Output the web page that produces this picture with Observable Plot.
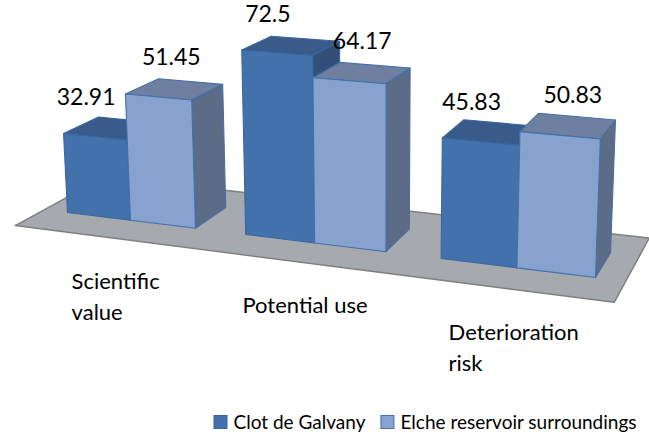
<!DOCTYPE html>
<html><head><meta charset="utf-8">
<script src="https://cdn.jsdelivr.net/npm/d3@7"></script>
<script src="https://cdn.jsdelivr.net/npm/@observablehq/plot@0.6"></script>
<style>html,body{margin:0;padding:0;background:#fff;} #chart svg{display:block;}</style>
</head><body><div id="chart"></div>
<script>
// ---- data ----
const categories = ["Scientific value", "Potential use", "Deterioration risk"];
const categoryLabels = ["Scientific\nvalue", "Potential use", "Deterioration\nrisk"];
const seriesNames = ["Clot de Galvany", "Elche reservoir surroundings"];
const clotValues = [32.91, 72.5, 45.83];
const elcheValues = [51.45, 64.17, 50.83];

// ---- style ----
const FONT = "Lato, 'Open Sans', sans-serif";
const palette = {
  "Clot de Galvany": {front: "#4271ab", top: "#3a5b89", side: "#324f78", edge: "#3a66a0"},
  "Elche reservoir surroundings": {front: "#87a2cf", top: "#6e7fa0", side: "#5c6b86", edge: "#4470ab"}
};
const VALUE_SIZE = 23, CAT_SIZE = 22, LEG_SIZE = 19;

// ---- scales (world units) ----
const groupScale = Plot.scale({x: {type: "band", domain: categories, range: [-0.375, 7.875],
  paddingInner: 0.75 / 2.75, paddingOuter: 0.375 / 2.75, align: 0.5, round: false}});
const seriesScale = Plot.scale({x: {type: "band", domain: seriesNames, range: [0, groupScale.bandwidth],
  padding: 0, round: false}});
const heightScale = Plot.scale({y: {type: "linear", domain: [0, 80], range: [0, 1]}});

// perspective camera (3x4 projection of world X, H, Z to screen)
const CAM = {u: [67, 60.88, -11.52, 38.6], v: [212, 4.235, -196, -11.4], w: [1, -0.016, -0.0304, 0.0416]};
function project(X, H, Z) {
  const w = CAM.w[0] + CAM.w[1] * X + CAM.w[2] * H + CAM.w[3] * Z;
  return [(CAM.u[0] + CAM.u[1] * X + CAM.u[2] * H + CAM.u[3] * Z) / w,
          (CAM.v[0] + CAM.v[1] * X + CAM.v[2] * H + CAM.v[3] * Z) / w];
}
const DEPTH = [0, 1];           // bar depth
const FLOOR_Z = [-0.77, 1.77];  // floor depth

// ---- build table ----
const valuesBySeries = {"Clot de Galvany": clotValues, "Elche reservoir surroundings": elcheValues};
const faces = [];
const labels = [];
let fid = 0;
function pushFace(pts, fill, stroke) {
  const id = fid++;
  [...pts, pts[0]].forEach(([X, H, Z]) => {
    const [x, y] = project(X, H, Z);
    faces.push({id, x, y, fill, stroke});
  });
}
categories.forEach((cat, i) => {
  seriesNames.forEach((s, j) => {
    const v = valuesBySeries[s][i];
    const x0 = groupScale.apply(cat) + seriesScale.apply(s);
    const x1 = x0 + seriesScale.bandwidth;
    const h = heightScale.apply(v);
    const [z0, z1] = DEPTH;
    const c = palette[s];
    pushFace([[x0, h, z0], [x1, h, z0], [x1, h, z1], [x0, h, z1]], c.top, c.edge);
    pushFace([[x1, 0, z0], [x1, 0, z1], [x1, h, z1], [x1, h, z0]], c.side, c.edge);
    pushFace([[x0, 0, z0], [x1, 0, z0], [x1, h, z0], [x0, h, z0]], c.front, c.edge);
    const [lx, ly] = project((x0 + x1) / 2, h, z0);
    labels.push({x: lx + (j === 0 ? -9 : 13), y: Math.max(ly - 32, VALUE_SIZE * 0.92), text: String(v)});
  });
});

const [gx0, gx1] = groupScale.range;
const floor = [[gx0, 0, FLOOR_Z[0]], [gx1, 0, FLOOR_Z[0]], [gx1, 0, FLOOR_Z[1]], [gx0, 0, FLOOR_Z[1]], [gx0, 0, FLOOR_Z[0]]]
  .map(([X, H, Z]) => { const [x, y] = project(X, H, Z); return {x, y}; });

// category labels (left-aligned blocks centred under each group)
const ctx = document.createElement("canvas").getContext("2d");
ctx.font = `${CAT_SIZE}px Lato`;
const catRows = categories.map((cat, i) => {
  const [ax, ay] = project(groupScale.apply(cat) + groupScale.bandwidth / 2, 0, FLOOR_Z[0]);
  const w = Math.max(...categoryLabels[i].split("\n").map(t => ctx.measureText(t).width));
  return {x: ax + 12 - w / 2, y: ay + 30, text: categoryLabels[i]};
});

// legend
const LEG_Y = 422, SW = 13;
ctx.font = `${LEG_SIZE}px Lato`;
let lx = 214;
const legRects = [], legTexts = [];
seriesNames.forEach((s, j) => {
  legRects.push({x1: lx, x2: lx + SW, y1: LEG_Y - SW / 2, y2: LEG_Y + SW / 2, fill: palette[s].front, stroke: palette[s].edge});
  lx += SW + 6;
  legTexts.push({x: lx, y: LEG_Y, text: s});
  lx += ctx.measureText(s).width + 16;
});

const plot = Plot.plot({
  width: 649, height: 437, margin: 0,
  x: {type: "identity", axis: null},
  y: {type: "identity", axis: null},
  color: {type: "identity"},
  style: {fontFamily: FONT, background: "#fff", overflow: "visible"},
  marks: [
    Plot.line(floor, {x: "x", y: "y", fill: "#a6a9ae", stroke: "#7f7f7f", strokeWidth: 1.5, strokeLinejoin: "round"}),
    Plot.line(faces, {x: "x", y: "y", z: "id", fill: "fill", stroke: "stroke", strokeWidth: 1.1, strokeLinejoin: "round"}),
    Plot.text(labels, {x: "x", y: "y", text: "text", fontSize: VALUE_SIZE, lineAnchor: "bottom", textAnchor: "middle", fill: "#000"}),
    Plot.text(catRows, {x: "x", y: "y", text: "text", fontSize: CAT_SIZE, lineHeight: 1.4, lineAnchor: "top", textAnchor: "start", fill: "#000"}),
    Plot.rect(legRects, {x1: "x1", x2: "x2", y1: "y1", y2: "y2", fill: "fill", stroke: "stroke", strokeWidth: 1}),
    Plot.text(legTexts, {x: "x", y: "y", text: "text", fontSize: LEG_SIZE, lineAnchor: "middle", textAnchor: "start", fill: "#000"})
  ]
});
document.getElementById("chart").append(plot);
</script>
</body></html>
